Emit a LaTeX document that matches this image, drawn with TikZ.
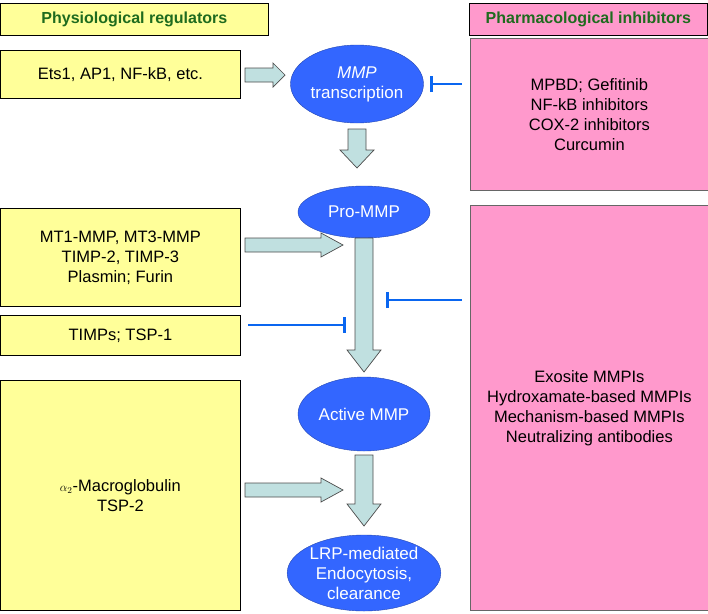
\documentclass[tikz,border=0pt]{standalone}
\usepackage{fontspec}
\setmainfont{Liberation Sans}
\usetikzlibrary{shapes.geometric,arrows.meta}
\definecolor{yel}{HTML}{FFFF99}
\definecolor{pnk}{HTML}{FF99CC}
\definecolor{ell}{HTML}{3366FF}
\definecolor{arr}{HTML}{C0E0E0}
\definecolor{inh}{HTML}{0A66F0}
\definecolor{grn}{HTML}{1E6B1E}
% horizontal block arrow: x1, x2, y, half shaft, half head, head length
\newcommand\myharr[6]{\draw[barr] (#1,#3-#4) -- (#2-#6,#3-#4) -- (#2-#6,#3-#5) -- (#2,#3) -- (#2-#6,#3+#5) -- (#2-#6,#3+#4) -- (#1,#3+#4) -- cycle;}
\newcommand\myvarr[6]{\draw[barr] (#1-#4,#2) -- (#1-#4,#3-#6) -- (#1-#5,#3-#6) -- (#1,#3) -- (#1+#5,#3-#6) -- (#1+#4,#3-#6) -- (#1+#4,#2) -- cycle;}
\begin{document}
\begin{tikzpicture}[x=1pt,y=-1pt,
  ybox/.style={draw=black,fill=yel,line width=0.8pt,align=center,font=\fontsize{16.5}{20}\selectfont},
  pbox/.style={draw=black!60,fill=pnk,line width=0.8pt,align=center,font=\fontsize{16.5}{20}\selectfont},
  head/.style={font=\bfseries\fontsize{16}{19}\selectfont,text=grn},
  el/.style={ellipse,fill=ell,draw=ell!70!black,text=white,align=center,font=\fontsize{17}{20}\selectfont,inner sep=0pt},
  barr/.style={draw=black!70,fill=arr,line width=0.7pt},
  inhl/.style={draw=inh,line width=2.4pt,-{Bar[width=16pt,line width=2.6pt]}}]
\useasboundingbox (0,0) rectangle (708,613);
% headers
\node[ybox,head,minimum width=268pt,minimum height=32pt,anchor=north west] (hl) at (0,3) {Physiological regulators};
\node[pbox,head,minimum width=238pt,minimum height=32pt,anchor=north west,draw=black] (hr) at (469,3) {Pharmacological inhibitors};
% left boxes
\node[ybox,minimum width=240pt,minimum height=48pt,anchor=north west] (ets) at (0,50) {Ets1, AP1, NF-kB, etc.};
\node[ybox,minimum width=240pt,minimum height=98pt,anchor=north west] (mt) at (0,208) {MT1-MMP, MT3-MMP\\TIMP-2, TIMP-3\\Plasmin; Furin};
\node[ybox,minimum width=240pt,minimum height=40pt,anchor=north west] (timp) at (0,315) {TIMPs; TSP-1};
\node[ybox,minimum width=240pt,minimum height=230pt,anchor=north west] (a2) at (0,380) {{\fontsize{13}{14}\selectfont$\alpha_2$}-Macroglobulin\\TSP-2};
% right boxes
\node[pbox,minimum width=238pt,minimum height=152pt,anchor=north west] (p1) at (470,38) {MPBD; Gefitinib\\NF-kB inhibitors\\COX-2 inhibitors\\Curcumin};
\node[pbox,minimum width=238pt,minimum height=405pt,anchor=north west] (p2) at (470,205) {Exosite MMPIs\\Hydroxamate-based MMPIs\\Mechanism-based MMPIs\\Neutralizing antibodies};
% ellipses
\node[el,minimum width=133pt,minimum height=78pt] (tr) at (357,84) {\textit{MMP}\\transcription};
\node[el,minimum width=132pt,minimum height=52pt] (pro) at (364,212) {Pro-MMP};
\node[el,minimum width=132pt,minimum height=74pt] (act) at (364,414) {Active MMP};
\node[el,minimum width=132pt,minimum height=76pt] (lrp) at (364,573) {LRP-mediated\\Endocytosis,\\clearance};
% block arrows
\myharr{245}{285}{75}{7}{12}{12}
\myvarr{357}{129}{168}{9}{17}{18}
\myvarr{364}{238}{372}{9}{17}{22}
\myharr{245}{343}{245}{7}{12}{22}
\myharr{245}{343}{490}{7}{12}{22}
\myvarr{364}{455}{526}{9}{17}{22}
% inhibition
\coordinate (i1) at (430,84);
\coordinate (i2) at (386,300);
\coordinate (i3) at (346,325);
\coordinate (t0) at (248,325);
\draw[inhl] (p1.west |- i1) ++(-8,0) -- (i1);
\draw[inhl] (p2.west |- i2) ++(-8,0) -- (i2);
\draw[inhl] (t0) -- (i3);
\end{tikzpicture}
\end{document}
